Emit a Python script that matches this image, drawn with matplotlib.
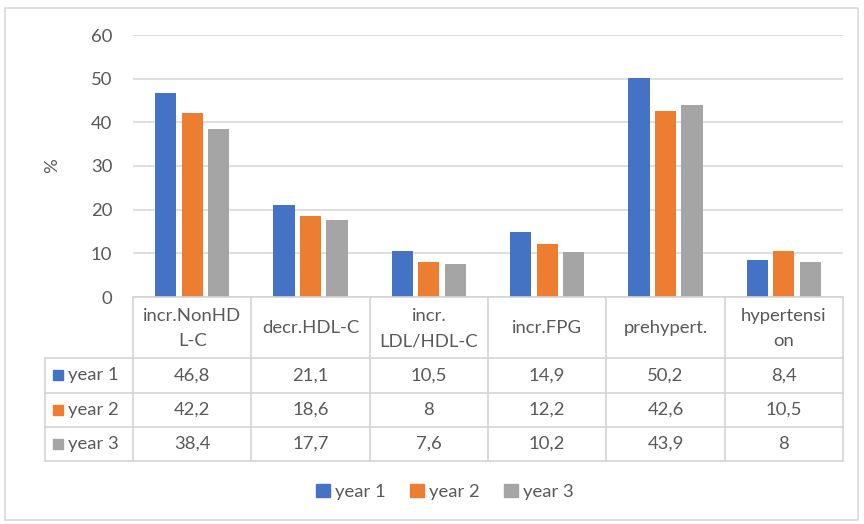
import matplotlib
matplotlib.use("Agg")
import matplotlib.pyplot as plt
import numpy as np
from matplotlib.patches import Rectangle

plt.rcParams['font.family'] = ['Lato', 'DejaVu Sans']

categories = ["incr.NonHD\nL-C", "decr.HDL-C", "incr.\nLDL/HDL-C", "incr.FPG", "prehypert.", "hypertensi\non"]
series_names = ["year 1", "year 2", "year 3"]
year1 = [46.8, 21.1, 10.5, 14.9, 50.2, 8.4]
year2 = [42.2, 18.6, 8, 12.2, 42.6, 10.5]
year3 = [38.4, 17.7, 7.6, 10.2, 43.9, 8]
colors = ["#4472C4", "#ED7D31", "#A5A5A5"]
yticks = [0, 10, 20, 30, 40, 50, 60]

TXT = "#595959"
GRID = "#D9D9D9"
LINE = "#D4D4D4"
FS = 13.3

W, H = 864, 524
fig = plt.figure(figsize=(W / 100, H / 100), dpi=100)

def fx(px):
    return px / W

def fy(py):
    return 1 - py / H

# outer chart border
fig.patches.append(Rectangle((fx(5), fy(520)), fx(853), (512) / H, transform=fig.transFigure,
                             fill=False, edgecolor="#D9D9D9", linewidth=1.2))

# plot area
left, right, top, bottom = 133, 843, 35, 297
ax = fig.add_axes([fx(left), fy(bottom), fx(right - left), (bottom - top) / H])
n = len(categories)
x = np.arange(n)
offsets = [-0.224, 0.0, 0.224]
bw = 0.18
data = [year1, year2, year3]
for vals, off, c in zip(data, offsets, colors):
    ax.bar(x + off, vals, width=bw, color=c, zorder=3)
ax.set_xlim(-0.5, n - 0.5)
ax.set_ylim(0, 60)
ax.set_yticks(yticks)
ax.set_yticklabels([str(t) for t in yticks], fontsize=FS, color=TXT)
ax.set_xticks([])
ax.tick_params(axis='y', length=0, pad=15)
ax.grid(axis='y', color=GRID, linewidth=1.2, zorder=0)
for s in ax.spines.values():
    s.set_visible(False)
ax.set_ylabel("%", fontsize=FS, color=TXT, labelpad=22)

# data table beneath the plot
tleft, tright, ttop, tbot = 45, 843, 297, 461
unit = (right - left) / n
xmin = -0.5 - (left - tleft) / unit
tax = fig.add_axes([fx(tleft), fy(tbot), fx(tright - tleft), (tbot - ttop) / H])
tax.set_xlim(xmin, n - 0.5)
tax.set_ylim(tbot, ttop)
tax.axis("off")

row_edges = [297, 358, 393, 427, 461]
lw = 1.2
# horizontal rules
tax.plot([-0.5, n - 0.5], [row_edges[0]] * 2, color=LINE, lw=lw, clip_on=False)
for ry in row_edges[1:]:
    tax.plot([xmin, n - 0.5], [ry, ry], color=LINE, lw=lw, clip_on=False)
# vertical rules
for i in range(n + 1):
    tax.plot([i - 0.5, i - 0.5], [row_edges[0], row_edges[-1]], color=LINE, lw=lw, clip_on=False)
tax.plot([xmin, xmin], [row_edges[1], row_edges[-1]], color=LINE, lw=lw, clip_on=False)

# header cells
for i, cat in enumerate(categories):
    tax.text(i, (row_edges[0] + row_edges[1]) / 2 + 1, cat, ha="center", va="center",
             fontsize=FS, color=TXT, linespacing=1.75)

def fmt(v):
    s = ("%g" % v)
    return s.replace(".", ",")

# value rows
for r, (name, vals, c) in enumerate(zip(series_names, data, colors)):
    yc = (row_edges[r + 1] + row_edges[r + 2]) / 2
    for i, v in enumerate(vals):
        tax.text(i, yc, fmt(v), ha="center", va="center", fontsize=FS, color=TXT)
    tax.add_patch(Rectangle((xmin + 8 / unit, yc - 5), 10 / unit, 10, color=c, clip_on=False))
    tax.text(xmin + 23 / unit, yc, name, ha="left", va="center", fontsize=FS, color=TXT)

# legend
handles = [Rectangle((0, 0), 1, 1, color=c) for c in colors]
fig.legend(handles, series_names, loc="center", bbox_to_anchor=(fx(445), fy(492)), ncol=3,
           frameon=False, fontsize=FS, labelcolor=TXT, handlelength=0.75, handleheight=0.75,
           handletextpad=0.3, columnspacing=1.3)

fig.savefig("out.png", dpi=100)
